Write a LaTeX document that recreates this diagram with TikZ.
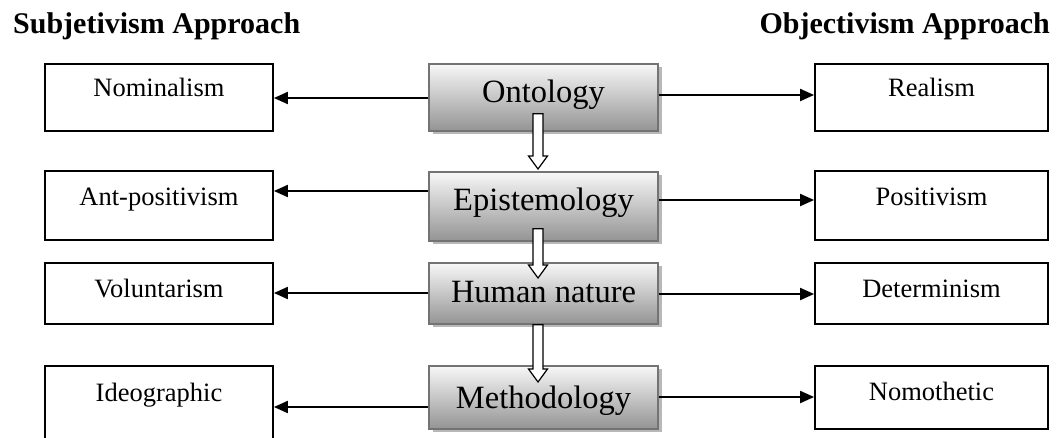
\documentclass[tikz,border=0pt]{standalone}
\usepackage{fontspec}
\setmainfont{Liberation Serif}
\usetikzlibrary{arrows.meta,positioning,calc,shadows}
\tikzset{
    side box/.style={draw, line width=1.8pt, anchor=north, inner sep=0pt, minimum width=228pt, font=\fontsize{26.5}{30}\selectfont},
    level box/.style={draw=black!55, line width=1.8pt, anchor=north, inner sep=0pt, minimum width=229pt,
        top color=black!3, bottom color=black!42,
        drop shadow={shadow xshift=3.5pt, shadow yshift=-3.5pt, fill=black!28, opacity=1},
        font=\fontsize{32.5}{36}\selectfont},
    approach/.style={font=\bfseries\fontsize{30}{34}\selectfont, inner sep=0pt},
    arr/.style={-{Triangle[length=14pt,width=12pt]}, line width=2pt},
    hollow/.style={draw, fill=white, line width=1.2pt},
}
% hollow arrow from one level box down into the next
\newcommand{\flowarrow}[4]{%
    \draw[hollow] let \p1 = ([yshift=#2]#1.south), \p2 = ([yshift=#4]#3.north) in
        (\x1-10.5pt,\y1) -- (\x1-10.5pt,\y2+13pt) -- (\x1-15pt,\y2+13pt) -- (\x1-5.5pt,\y2)
        -- (\x1+4pt,\y2+13pt) -- (\x1-0.5pt,\y2+13pt) -- (\x1-0.5pt,\y1) -- cycle;}

\begin{document}
\begin{tikzpicture}[x=1pt, y=-1pt]
    \useasboundingbox (0,0) rectangle (1056,437);

    \node[approach, anchor=base west] (subj) at (13,33) {Subjetivism Approach};
    \node[approach, anchor=base east] (obj) at (1050,33) {Objectivism Approach};

    % levels
    \node[level box, text height=39pt, text depth=28pt] (ont) at (543.5,63) {Ontology};
    \node[level box, text height=39pt, text depth=30pt] (epi) at (543.5,171) {Epistemology};
    \node[level box, text height=40pt, text depth=21pt] (hum) at (543.5,262) {Human nature};
    \node[level box, text height=43pt, text depth=20pt] (meth) at (543.5,365) {Methodology};

    % subjectivist side
    \node[side box, text height=33pt, text depth=34pt] (nom) at (159,63) {Nominalism};
    \node[side box, text height=35pt, text depth=34pt] (ant) at (159,170) {Ant-positivism};
    \node[side box, text height=35pt, text depth=26pt] (vol) at (159,262) {Voluntarism};
    \node[side box, text height=36pt, text depth=44pt] (ide) at (159,365) {Ideographic};

    % objectivist side
    \node[side box, minimum width=233pt, text height=33pt, text depth=34pt] (rea) at (931.5,63) {Realism};
    \node[side box, minimum width=233pt, text height=35pt, text depth=34pt] (pos) at (931.5,170) {Positivism};
    \node[side box, minimum width=233pt, text height=35pt, text depth=26pt] (det) at (931.5,262) {Determinism};
    \node[side box, minimum width=233pt, text height=35pt, text depth=28pt] (nomo) at (931.5,365) {Nomothetic};

    \draw[arr] (ont.west |- 0,98) -- (nom.east |- 0,98);
    \draw[arr] (ont.east |- 0,95) -- (rea.west |- 0,95);
    \draw[arr] (epi.west |- 0,191) -- (ant.east |- 0,191);
    \draw[arr] (epi.east |- 0,200) -- (pos.west |- 0,200);
    \draw[arr] (hum.west |- 0,293) -- (vol.east |- 0,293);
    \draw[arr] (hum.east |- 0,294) -- (det.west |- 0,294);
    \draw[arr] (meth.west |- 0,407) -- (ide.east |- 0,407);
    \draw[arr] (meth.east |- 0,397) -- (nomo.west |- 0,397);

    \flowarrow{ont}{18pt}{epi}{2pt}
    \flowarrow{epi}{13pt}{hum}{-16pt}
    \flowarrow{hum}{0pt}{meth}{-17pt}
\end{tikzpicture}
\end{document}
